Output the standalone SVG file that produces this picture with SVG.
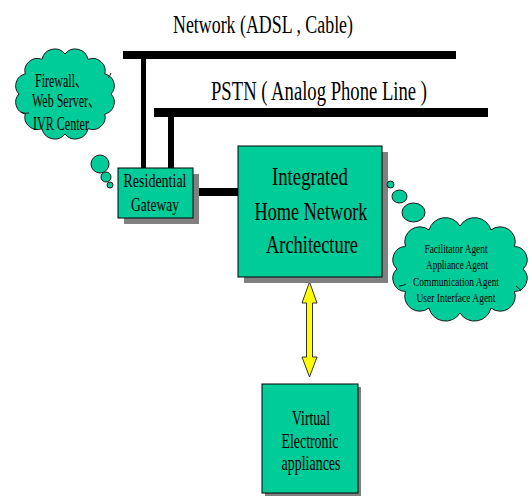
<svg xmlns="http://www.w3.org/2000/svg" width="532" height="497" viewBox="0 0 532 497">
<style>
.t{font-family:"Liberation Serif","Noto Sans CJK SC",serif;fill:#000;text-anchor:middle}
.box{fill:#00CC99;stroke:#000;stroke-width:1}
.sh{fill:#808080}
.cloud{fill:#00CC99;stroke:#1a1a1a;stroke-width:1}
.bar{fill:#000}
.in{fill:none;stroke:#1a1a1a;stroke-width:1}
</style>
<rect width="532" height="497" fill="#fff"/>
<text class="t" x="263" y="33" font-size="26" textLength="180" lengthAdjust="spacingAndGlyphs">Network (ADSL , Cable)</text>
<text class="t" x="319" y="100" font-size="27" textLength="216" lengthAdjust="spacingAndGlyphs">PSTN ( Analog Phone Line )</text>
<g id="connectors">
<rect class="bar" x="123" y="51" width="333" height="8"/>
<rect class="bar" x="141" y="59" width="5" height="109"/>
<rect class="bar" x="154" y="108" width="334" height="9"/>
<rect class="bar" x="168" y="117" width="6" height="51"/>
<rect class="bar" x="193" y="188" width="45" height="8"/>
<polygon points="309.5,282 317,303 312.5,303 312.5,357 317,357 309.5,377 302,357 306.5,357 306.5,303 302,303" fill="#FFFF00" stroke="#333" stroke-width="1"/>
</g>
<g id="cloud-services">
<path class="cloud" d="M65,54 A13,13 0 0 1 88,59.4 A12.5,12.5 0 0 1 104.8,74 A12,12 0 0 1 111,94 A12,12 0 0 1 104.8,114 A12.5,12.5 0 0 1 88,128.6 A13,13 0 0 1 65,134 A13,13 0 0 1 42,128.6 A12.5,12.5 0 0 1 25.2,114 A12,12 0 0 1 19,94 A12,12 0 0 1 25.2,74 A12.5,12.5 0 0 1 42,59.4 A13,13 0 0 1 65,54 Z"/>
<path class="in" d="M21,112 q4,2 8,1 M108,78 q2,-2 3,-5"/>
<circle class="cloud" cx="100" cy="164" r="9"/>
<circle class="cloud" cx="106" cy="177" r="5"/>
<circle class="cloud" cx="110" cy="185" r="3"/>
<text class="t" x="61" y="87" font-size="19" textLength="52" lengthAdjust="spacingAndGlyphs">Firewall、</text>
<text class="t" x="66" y="107" font-size="19" textLength="68" lengthAdjust="spacingAndGlyphs">Web Server、</text>
<text class="t" x="61" y="130" font-size="19" textLength="56" lengthAdjust="spacingAndGlyphs">IVR Center</text>
</g>
<g id="residential-gateway">
<rect class="sh" x="124" y="174" width="75" height="50"/>
<rect class="box" x="118" y="168" width="75" height="50"/>
<text class="t" x="155" y="187" font-size="18" textLength="63" lengthAdjust="spacingAndGlyphs">Residential</text>
<text class="t" x="155" y="211" font-size="18" textLength="48" lengthAdjust="spacingAndGlyphs">Gateway</text>
</g>
<g id="integrated-home-network">
<rect class="sh" x="244" y="152" width="144" height="131"/>
<rect class="box" x="238" y="146" width="144" height="131"/>
<text class="t" x="310" y="185" font-size="25" textLength="76" lengthAdjust="spacingAndGlyphs">Integrated</text>
<text class="t" x="311" y="220" font-size="25" textLength="113" lengthAdjust="spacingAndGlyphs">Home Network</text>
<text class="t" x="312" y="253" font-size="25" textLength="92" lengthAdjust="spacingAndGlyphs">Architecture</text>
</g>
<g id="cloud-agents">
<circle class="cloud" cx="390.5" cy="184.5" r="3.5"/>
<ellipse class="cloud" cx="399.5" cy="196.5" rx="7.5" ry="6.5"/>
<ellipse class="cloud" cx="413.5" cy="212.5" rx="11.5" ry="9.5"/>
<path class="cloud" d="M460,226 A17,17 0 0 1 491,230 A15,15 0 0 1 514.5,246.5 A13,13 0 0 1 523,269 A13,13 0 0 1 514.5,291.5 A15,15 0 0 1 491,308 A17,17 0 0 1 460,313 A17,17 0 0 1 429,308 A15,15 0 0 1 405.5,291.5 A13,13 0 0 1 397,269 A13,13 0 0 1 405.5,246.5 A15,15 0 0 1 429,230 A17,17 0 0 1 460,226 Z"/>
<path class="in" d="M516,286 q3,2 5,5 M399,286 q4,0 7,-2"/>
<text class="t" x="456" y="253" font-size="13" textLength="63" lengthAdjust="spacingAndGlyphs">Facilitator Agent</text>
<text class="t" x="457" y="269" font-size="13" textLength="62" lengthAdjust="spacingAndGlyphs">Appliance Agent</text>
<text class="t" x="456" y="286" font-size="13" textLength="86" lengthAdjust="spacingAndGlyphs">Communication Agent</text>
<text class="t" x="456" y="302" font-size="13" textLength="79" lengthAdjust="spacingAndGlyphs">User Interface Agent</text>
</g>
<g id="virtual-appliances">
<rect class="sh" x="265" y="387" width="96" height="109"/>
<rect class="box" x="262" y="384" width="96" height="109"/>
<text class="t" x="311" y="425" font-size="21" textLength="38" lengthAdjust="spacingAndGlyphs">Virtual</text>
<text class="t" x="310" y="448" font-size="21" textLength="57" lengthAdjust="spacingAndGlyphs">Electronic</text>
<text class="t" x="311" y="470" font-size="21" textLength="59" lengthAdjust="spacingAndGlyphs">appliances</text>
</g>
</svg>
